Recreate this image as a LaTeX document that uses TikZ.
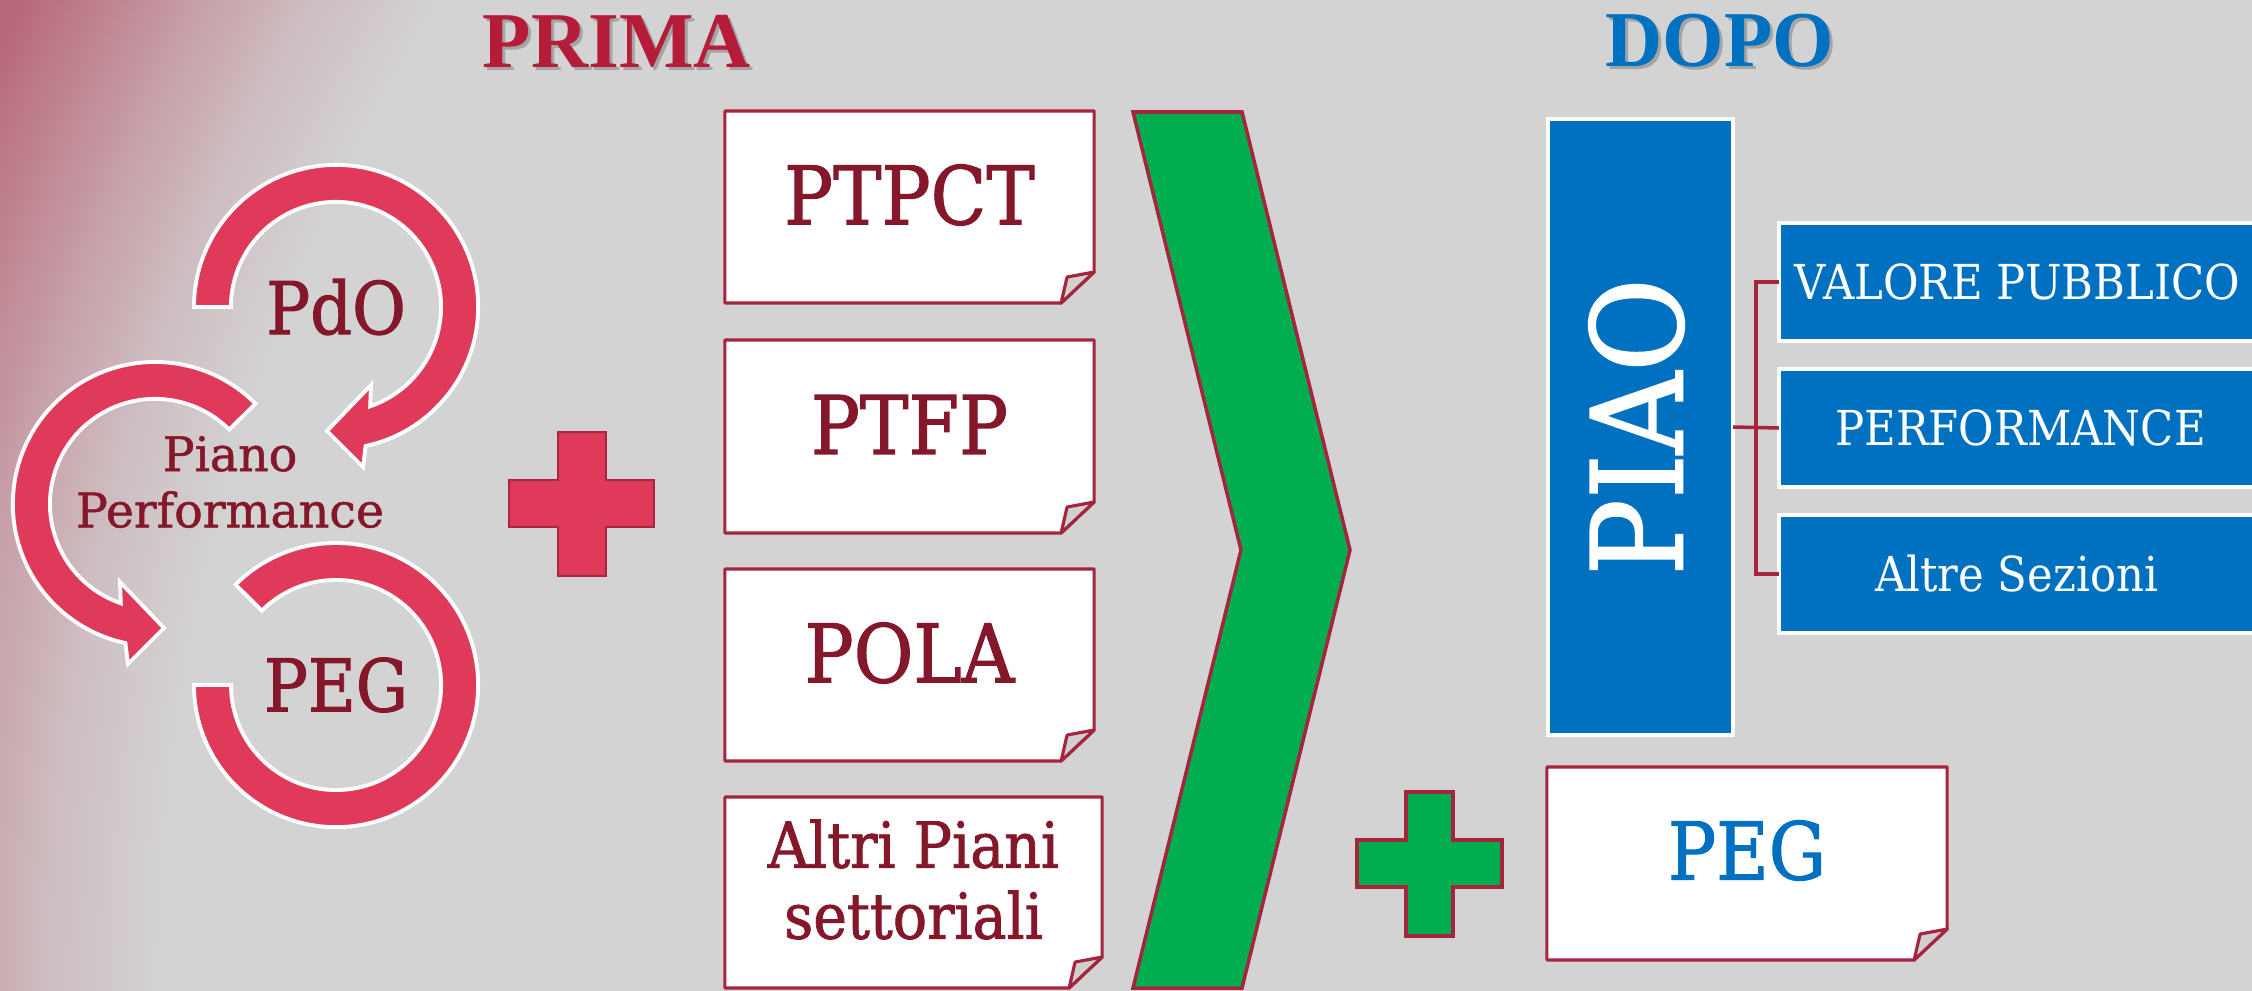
\documentclass[tikz,border=0pt]{standalone}
\usepackage{fontspec}
\setmainfont{DejaVu Serif}
\newfontfamily\slab{DejaVu Serif}[FakeStretch=0.9, FakeBold=1.3]
\newfontfamily\slablight{DejaVu Serif}[FakeStretch=0.9]
\newfontfamily\slabwide{DejaVu Serif}[FakeBold=1.1]
\newfontfamily\headfont{Liberation Serif}
\usetikzlibrary{calc}

\definecolor{bggrey}{HTML}{D3D3D3}
\definecolor{pinkfaint}{HTML}{CEBEC1}
\definecolor{pinkmid}{HTML}{C69EA6}
\definecolor{pinkcorner}{HTML}{B86879}
\definecolor{ringred}{HTML}{E03A5A}
\definecolor{txtred}{HTML}{85172B}
\definecolor{boxline}{HTML}{A4253D}
\definecolor{plusline}{HTML}{A92640}
\definecolor{chevgreen}{HTML}{00AE50}
\definecolor{piaoblue}{HTML}{0070C0}
\definecolor{titlered}{HTML}{B41C3A}
\definecolor{flapgrey}{HTML}{D0D0D0}

% the middle 50bp square of the shading is stretched over the shaded path
\pgfdeclareradialshading{bgfade}{\pgfpointorigin}{%
  color(0bp)=(bggrey); color(19.5bp)=(bggrey); color(20.7bp)=(pinkfaint);
  color(21.8bp)=(pinkmid); color(23.4bp)=(pinkcorner); color(50bp)=(pinkcorner)}

% sheet of paper with a turned-up corner, drawn round an empty frame node
\newcommand\notefold[1]{%
  \draw[noteline] (#1.north west) -- (#1.north east) -- ([yshift=0.31cm]#1.south east)
    -- ([xshift=-0.33cm]#1.south east) -- (#1.south west) -- cycle;
  \draw[noteline, fill=flapgrey] ([yshift=0.31cm]#1.south east)
    -- ([xshift=-0.27cm,yshift=0.26cm]#1.south east)
    -- ([xshift=-0.33cm]#1.south east) -- cycle;
}

\begin{document}
\begin{tikzpicture}[x=0.01cm,y=0.01cm,
  frame/.style={inner sep=0pt, outer sep=0pt, draw=none},
  noteline/.style={draw=boxline, line width=0.9pt, fill=white, line join=round},
  ringarrow/.style={fill=ringred, draw=white, line width=1.1pt, line join=miter},
  boxtxt/.style={inner sep=0pt, text=txtred, font=\slab\fontsize{23}{27}\selectfont},
  ringtxt/.style={inner sep=0pt, text=txtred, font=\slab\fontsize{20.7}{24}\selectfont},
  headtxt/.style={inner sep=0pt, font=\headfont\bfseries\fontsize{22.5}{26}\selectfont},
  headshadow/.style={headtxt, text=black, opacity=0.22},
  bluebox/.style={frame, fill=piaoblue, draw=white, line width=1.1pt},
  subtxt/.style={inner sep=0pt, text=white, font=\slablight\fontsize{13.7}{16}\selectfont},
  bracket/.style={draw=boxline, line width=1pt},
  plusred/.style={fill=ringred, draw=plusline, line width=0.8pt},
  plusgreen/.style={fill=chevgreen, draw=boxline, line width=0.9pt},
  chevron/.style={fill=chevgreen, draw=boxline, line width=1pt, line join=miter}]

\useasboundingbox (0,0) rectangle (2252,990);

% ---- backdrop: grey with a rosy glow in the upper left corner
\begin{scope}
  \clip (0,0) rectangle (2252,990);
  \fill[bggrey] (0,0) rectangle (2252,990);
  \shade[shading=bgfade] (2040,0) circle[radius=24cm];
\end{scope}

\begin{scope}
\clip (0,0) rectangle (2252,990);

% ---- headings
\node[headshadow] (primash) at (620,946) {PRIMA};
\node[headtxt, text=titlered] (prima) at (617,949) {PRIMA};
\node[headshadow] (doposh) at (1723,946) {DOPO};
\node[headtxt, text=piaoblue] (dopo) at (1720,949) {DOPO};

% ---- cycle of the three plans
\coordinate (C1) at (336,683);
\coordinate (C2) at (155,486);
\coordinate (C3) at (336,305);

\path[ringarrow] ($(C3)+(135:142)$) arc[start angle=135, end angle=-180, radius=1.42cm]
  -- ($(C3)+(180:105)$) arc[start angle=-180, end angle=135, radius=1.05cm] -- cycle;

\path[ringarrow] ($(C2)+(45:142)$) arc[start angle=45, end angle=258, radius=1.42cm]
  -- ($(C2)+(-27,-160)$) -- ($(C2)+(9,-124)$) -- ($(C2)+(-35,-78)$)
  -- ($(C2)+(251:105)$) arc[start angle=251, end angle=45, radius=1.05cm] -- cycle;

\path[ringarrow] ($(C1)+(180:142)$) arc[start angle=180, end angle=-78, radius=1.42cm]
  -- ($(C1)+(27,-160)$) -- ($(C1)+(-9,-124)$) -- ($(C1)+(35,-78)$)
  -- ($(C1)+(-71:105)$) arc[start angle=-71, end angle=180, radius=1.05cm] -- cycle;

\node[ringtxt] (pdo) at (C1) {PdO};
\node[ringtxt] (pegold) at (C3) {PEG};
\node[inner sep=0pt, text=txtred, align=center,
      font=\slabwide\fontsize{13.5}{16}\selectfont] (piano) at (230,508) {Piano\\Performance};

% ---- red plus
\path[plusred] (558,558) -- (606,558) -- (606,510) -- (654,510) -- (654,463) -- (606,463)
  -- (606,414) -- (558,414) -- (558,463) -- (509,463) -- (509,510) -- (558,510) -- cycle;

% ---- the separate plans
\node[frame, minimum width=3.69cm, minimum height=1.92cm] (ptpct) at (909.5,783) {};
\notefold{ptpct}
\node[boxtxt] (ptpctlbl) at ([yshift=0.12cm]ptpct.center) {PTPCT};

\node[frame, minimum width=3.69cm, minimum height=1.93cm] (ptfp) at (909.5,553.5) {};
\notefold{ptfp}
\node[boxtxt] (ptfplbl) at ([yshift=0.12cm]ptfp.center) {PTFP};

\node[frame, minimum width=3.69cm, minimum height=1.92cm] (pola) at (909.5,325) {};
\notefold{pola}
\node[boxtxt] (polalbl) at ([yshift=0.12cm]pola.center) {POLA};

\node[frame, minimum width=3.77cm, minimum height=1.91cm] (altri) at (913.5,97.5) {};
\notefold{altri}
\node[boxtxt, align=center, font=\slab\fontsize{18}{20.2}\selectfont] (altrilbl)
  at ([yshift=0.13cm]altri.center) {Altri Piani\\settoriali};

% ---- chevron
\path[chevron] (1133,878) -- (1242,878) -- (1350,440) -- (1242,2) -- (1133,2) -- (1241,440) -- cycle;

% ---- PIAO and its sections
\node[bluebox, minimum width=1.85cm, minimum height=6.16cm] (piao) at (1640.5,563) {};
\node[inner sep=0pt, rotate=90, text=white, font=\slab\fontsize{36}{42}\selectfont] (piaolbl)
  at ([xshift=-0.04cm]piao.center) {PIAO};

\node[bluebox, minimum width=4.83cm, minimum height=1.18cm] (sec1) at (2020.5,708) {};
\node[bluebox, minimum width=4.83cm, minimum height=1.18cm] (sec2) at (2020.5,562) {};
\node[bluebox, minimum width=4.83cm, minimum height=1.18cm] (sec3) at (2020.5,416) {};
\node[subtxt] (sec1lbl) at ([xshift=-0.03cm]sec1.center) {VALORE PUBBLICO};
\node[subtxt] (sec2lbl) at (sec2.center) {PERFORMANCE};
\node[subtxt] (sec3lbl) at ([xshift=-0.04cm]sec3.center) {Altre Sezioni};

\draw[bracket] (sec1.west) -- ++(-23,0) |- (sec3.west);
\draw[bracket] (piao.east) -- (sec2.west);

% ---- green plus and PEG
\path[plusgreen] (1406,198) -- (1453,198) -- (1453,150) -- (1502,150) -- (1502,103) -- (1453,103)
  -- (1453,54) -- (1406,54) -- (1406,103) -- (1357,103) -- (1357,150) -- (1406,150) -- cycle;

\node[frame, minimum width=4.00cm, minimum height=1.93cm] (pegnew) at (1747,126.5) {};
\notefold{pegnew}
\node[boxtxt, text=piaoblue, font=\slab\fontsize{22.7}{27}\selectfont] (pegnewlbl)
  at ([yshift=0.13cm]pegnew.center) {PEG};
\end{scope}
\end{tikzpicture}
\end{document}
